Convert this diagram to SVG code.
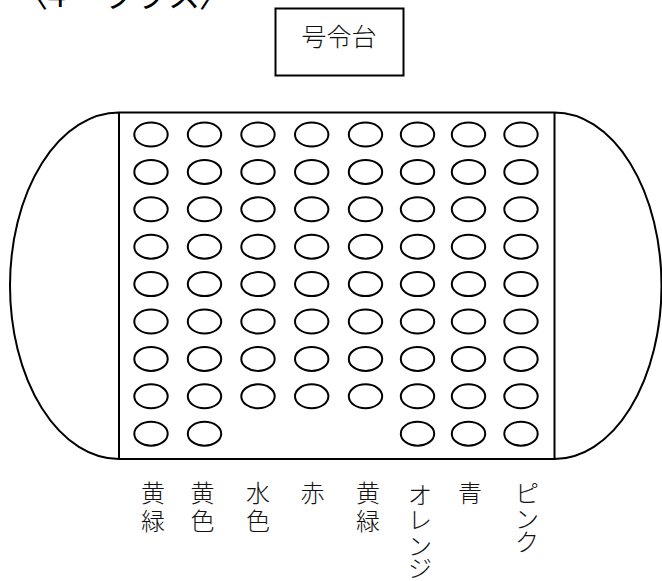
<svg xmlns="http://www.w3.org/2000/svg" width="662" height="581" viewBox="0 0 662 581">
<style>
.ln{fill:none;stroke:#000;stroke-width:2}
.seat{fill:none;stroke:#000;stroke-width:2}
.t{font-family:"Noto Sans CJK JP","Noto Sans CJK SC",sans-serif;fill:#111;font-size:24px;font-weight:300;text-anchor:middle}
.title{font-family:"Noto Sans CJK JP",sans-serif;fill:#000;font-size:32px}
</style>
<defs>
<ellipse id="s" cx="0" cy="0" rx="16.7" ry="12" class="seat"/>
</defs>
<rect width="662" height="581" fill="#fff"/>
<text class="title" x="16 48 66 104 134 168 199" y="7">〈4 クラス〉</text>
<g id="stage">
<rect x="275.5" y="8.5" width="128" height="67" fill="none" stroke="#000" stroke-width="2"/>
<text class="t" x="339" y="46" style="font-size:25px">号令台</text>
</g>
<g id="field">
<path class="ln" d="M119,112.5 A109,173.25 0 0 0 119,459 M554.5,112.5 A107,173.25 0 0 1 554.5,459 M119,112.5 H554.5 M119,459 H554.5 M119,112.5 V459 M554.5,112.5 V459"/>
</g>
<g id="col1">
<use href="#s" x="151" y="134.5"/><use href="#s" x="151" y="171.9"/><use href="#s" x="151" y="209.3"/><use href="#s" x="151" y="246.7"/><use href="#s" x="151" y="284.1"/><use href="#s" x="151" y="321.5"/><use href="#s" x="151" y="358.9"/><use href="#s" x="151" y="396.3"/><use href="#s" x="151" y="433.7"/>
<text class="t"><tspan x="153" y="502">黄</tspan><tspan x="153" y="530">緑</tspan></text>
</g>
<g id="col2">
<use href="#s" x="204.5" y="134.5"/><use href="#s" x="204.5" y="171.9"/><use href="#s" x="204.5" y="209.3"/><use href="#s" x="204.5" y="246.7"/><use href="#s" x="204.5" y="284.1"/><use href="#s" x="204.5" y="321.5"/><use href="#s" x="204.5" y="358.9"/><use href="#s" x="204.5" y="396.3"/><use href="#s" x="204.5" y="433.7"/>
<text class="t"><tspan x="202.5" y="502">黄</tspan><tspan x="202.5" y="530">色</tspan></text>
</g>
<g id="col3">
<use href="#s" x="258" y="134.5"/><use href="#s" x="258" y="171.9"/><use href="#s" x="258" y="209.3"/><use href="#s" x="258" y="246.7"/><use href="#s" x="258" y="284.1"/><use href="#s" x="258" y="321.5"/><use href="#s" x="258" y="358.9"/><use href="#s" x="258" y="396.3"/>
<text class="t"><tspan x="258" y="502">水</tspan><tspan x="258" y="530">色</tspan></text>
</g>
<g id="col4">
<use href="#s" x="311.7" y="134.5"/><use href="#s" x="311.7" y="171.9"/><use href="#s" x="311.7" y="209.3"/><use href="#s" x="311.7" y="246.7"/><use href="#s" x="311.7" y="284.1"/><use href="#s" x="311.7" y="321.5"/><use href="#s" x="311.7" y="358.9"/><use href="#s" x="311.7" y="396.3"/>
<text class="t"><tspan x="312.5" y="502">赤</tspan></text>
</g>
<g id="col5">
<use href="#s" x="365.5" y="134.5"/><use href="#s" x="365.5" y="171.9"/><use href="#s" x="365.5" y="209.3"/><use href="#s" x="365.5" y="246.7"/><use href="#s" x="365.5" y="284.1"/><use href="#s" x="365.5" y="321.5"/><use href="#s" x="365.5" y="358.9"/><use href="#s" x="365.5" y="396.3"/>
<text class="t"><tspan x="368" y="502">黄</tspan><tspan x="368" y="530">緑</tspan></text>
</g>
<g id="col6">
<use href="#s" x="417.5" y="134.5"/><use href="#s" x="417.5" y="171.9"/><use href="#s" x="417.5" y="209.3"/><use href="#s" x="417.5" y="246.7"/><use href="#s" x="417.5" y="284.1"/><use href="#s" x="417.5" y="321.5"/><use href="#s" x="417.5" y="358.9"/><use href="#s" x="417.5" y="396.3"/><use href="#s" x="417.5" y="433.7"/>
<text class="t"><tspan x="420" y="504">オ</tspan><tspan x="420" y="529">レ</tspan><tspan x="420" y="555">ン</tspan><tspan x="420" y="577">ジ</tspan></text>
</g>
<g id="col7">
<use href="#s" x="468.5" y="134.5"/><use href="#s" x="468.5" y="171.9"/><use href="#s" x="468.5" y="209.3"/><use href="#s" x="468.5" y="246.7"/><use href="#s" x="468.5" y="284.1"/><use href="#s" x="468.5" y="321.5"/><use href="#s" x="468.5" y="358.9"/><use href="#s" x="468.5" y="396.3"/><use href="#s" x="468.5" y="433.7"/>
<text class="t"><tspan x="470" y="502">青</tspan></text>
</g>
<g id="col8">
<use href="#s" x="521" y="134.5"/><use href="#s" x="521" y="171.9"/><use href="#s" x="521" y="209.3"/><use href="#s" x="521" y="246.7"/><use href="#s" x="521" y="284.1"/><use href="#s" x="521" y="321.5"/><use href="#s" x="521" y="358.9"/><use href="#s" x="521" y="396.3"/><use href="#s" x="521" y="433.7"/>
<text class="t"><tspan x="527" y="501.5">ピ</tspan><tspan x="527" y="527.5">ン</tspan><tspan x="527" y="550.5">ク</tspan></text>
</g>
</svg>
